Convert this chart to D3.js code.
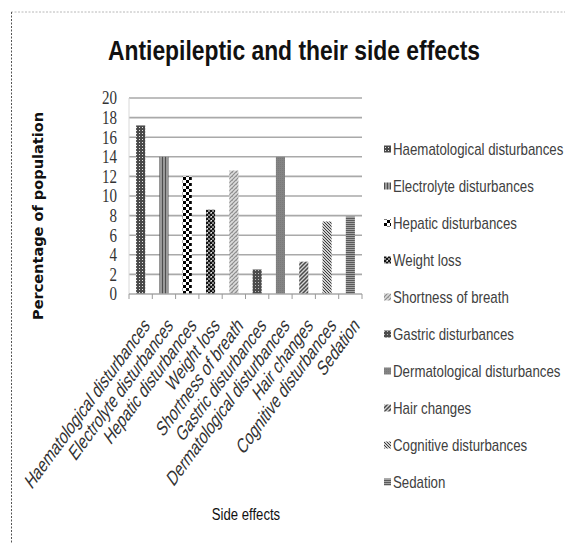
<!DOCTYPE html>
<html>
<head>
<meta charset="utf-8">
<script src="https://cdn.jsdelivr.net/npm/d3@7/dist/d3.min.js"></script>
<style>
  html, body { margin: 0; padding: 0; background: #fff; }
  svg { display: block; }
</style>
</head>
<body>
<svg id="chart" width="567" height="544"></svg>
<script>
// Side effects reported for antiepileptic drugs (% of population)
const categories = [
  "Haematological disturbances",
  "Electrolyte disturbances",
  "Hepatic disturbances",
  "Weight loss",
  "Shortness of breath",
  "Gastric disturbances",
  "Dermatological disturbances",
  "Hair changes",
  "Cognitive disturbances",
  "Sedation"
];
const values = [17.2, 14, 12, 8.6, 12.6, 2.5, 14, 3.3, 7.4, 7.9];
const yTicks = [0, 2, 4, 6, 8, 10, 12, 14, 16, 18, 20];
const titleText = "Antiepileptic and their side effects";
const xTitle = "Side effects";
const yTitle = "Percentage of population";

const SANS = "'Liberation Sans', Arial, sans-serif";
const NARROW_K = 0.82; // horizontal squeeze giving a condensed face

const svg = d3.select("#chart");
const defs = svg.append("defs");

// Monochrome fill patterns, one per series
function pat(id, w, h, bg, draw) {
  const p = defs.append("pattern").attr("id", id)
    .attr("patternUnits", "userSpaceOnUse").attr("width", w).attr("height", h);
  p.append("rect").attr("width", w).attr("height", h).attr("fill", bg);
  draw(p);
}
function sq(p, x, y, s, c) { p.append("rect").attr("x", x).attr("y", y).attr("width", s).attr("height", s).attr("fill", c); }

pat("p0", 3, 3, "#4a4a4a", p => { sq(p, 1, 1, 1, "#e8e8e8"); });
pat("p1", 3, 3, "#9a9a9a", p => { p.append("rect").attr("x", 0).attr("width", 1).attr("height", 3).attr("fill", "#4e4e4e"); });
pat("p2", 6, 6, "#ffffff", p => { sq(p, 0, 0, 3, "#000"); sq(p, 3, 3, 3, "#000"); });
pat("p3", 4, 4, "#8a8a8a", p => { sq(p, 0, 0, 2, "#111"); sq(p, 2, 2, 2, "#111"); sq(p, 3, 0, 1, "#f0f0f0"); });
pat("p4", 4, 4, "#dcdcdc", p => {
  p.append("path").attr("d", "M0,4 L4,0 M-1,1 L1,-1 M3,5 L5,3").attr("stroke", "#8c8c8c").attr("stroke-width", 1.2);
  sq(p, 0, 0, 1, "#a5a5a5");
});
pat("p5", 3, 3, "#4c4c4c", p => { sq(p, 0, 0, 1, "#bdbdbd"); });
pat("p6", 2, 2, "#848484", p => { sq(p, 0, 0, 1, "#7a7a7a"); });
pat("p7", 4, 4, "#d6d6d6", p => {
  p.append("path").attr("d", "M0,4 L4,0 M-1,1 L1,-1 M3,5 L5,3").attr("stroke", "#4a4a4a").attr("stroke-width", 1.5);
});
pat("p8", 3, 3, "#cfcfcf", p => {
  p.append("path").attr("d", "M0,0 L3,3 M-1,2 L1,4 M2,-1 L4,1").attr("stroke", "#3c3c3c").attr("stroke-width", 1);
});
pat("p9", 2, 2, "#a4a4a4", p => { p.append("rect").attr("width", 2).attr("height", 1).attr("fill", "#5a5a5a"); });

const fills = categories.map((_, i) => `url(#p${i})`);

// Outer dashed frame
svg.append("line").attr("x1", 11).attr("y1", 12).attr("x2", 565).attr("y2", 12)
  .attr("stroke", "#b8b8b8").attr("stroke-dasharray", "2,1.5");
svg.append("line").attr("x1", 11.5).attr("y1", 12).attr("x2", 11.5).attr("y2", 544)
  .attr("stroke", "#555").attr("stroke-dasharray", "2,1.5");

// Plot area
const plotLeft = 129, plotRight = 362, plotTop = 98, plotBottom = 294;
const x = d3.scaleBand().domain(categories).range([plotLeft, plotRight]).paddingInner(0.61).paddingOuter(0.305);
const y = d3.scaleLinear().domain([0, 20]).range([plotBottom, plotTop]);
const step = (plotRight - plotLeft) / categories.length;

// Horizontal gridlines
svg.append("g").selectAll("line").data(yTicks.filter(t => t > 0)).join("line")
  .attr("x1", plotLeft).attr("x2", plotRight)
  .attr("y1", d => y(d)).attr("y2", d => y(d))
  .attr("stroke", "#a9a9a9").attr("stroke-width", 1.6);

// Faint left axis line
svg.append("line").attr("x1", plotLeft).attr("x2", plotLeft).attr("y1", plotTop).attr("y2", plotBottom)
  .attr("stroke", "#d8d8d8").attr("stroke-width", 1);

// Y axis tick labels
const yAxis = d3.axisLeft(y).tickValues(yTicks).tickSize(0).tickPadding(12);
const yg = svg.append("g").attr("transform", `translate(${plotLeft},0)`).call(yAxis);
yg.select(".domain").remove();
yg.selectAll("text")
  .attr("font-family", "'Liberation Serif', serif")
  .attr("font-size", 15).attr("fill", "#333")
  .attr("transform", "scale(1,1.22)");

// Bars
svg.append("g").selectAll("rect").data(values).join("rect")
  .attr("x", (d, i) => x(categories[i]))
  .attr("width", x.bandwidth())
  .attr("y", d => y(d))
  .attr("height", d => y(0) - y(d))
  .attr("fill", (d, i) => fills[i]);

// X axis baseline and category boundary ticks
const boundaries = d3.range(categories.length + 1).map(i => plotLeft + i * step);
svg.append("line").attr("x1", plotLeft).attr("x2", plotRight).attr("y1", plotBottom).attr("y2", plotBottom)
  .attr("stroke", "#a9a9a9").attr("stroke-width", 1.4);
svg.append("g").selectAll("line").data(boundaries).join("line")
  .attr("x1", d => d).attr("x2", d => d).attr("y1", plotBottom).attr("y2", plotBottom + 5)
  .attr("stroke", "#9a9a9a").attr("stroke-width", 1);

// Slanted category labels
svg.append("g").selectAll("text").data(categories).join("text")
  .attr("transform", d => `translate(${x(d) + x.bandwidth() / 2 + 2},316) scale(1,1.37) rotate(-45) scale(${NARROW_K},1)`)
  .attr("text-anchor", "end").attr("dy", "0.71em")
  .attr("font-family", SANS).attr("font-size", 16).attr("fill", "#333")
  .text(d => d);

// Title
svg.append("text").attr("x", 294).attr("y", 60).attr("text-anchor", "middle")
  .attr("font-family", SANS).attr("font-weight", "bold").attr("font-size", 28)
  .attr("textLength", 372).attr("lengthAdjust", "spacingAndGlyphs")
  .attr("fill", "#111").text(titleText);

// Axis titles
svg.append("text").attr("transform", "translate(43,216) rotate(-90)").attr("text-anchor", "middle")
  .attr("font-family", "'DejaVu Sans', sans-serif").attr("font-weight", "bold").attr("font-size", 13.5)
  .attr("textLength", 208).attr("lengthAdjust", "spacingAndGlyphs")
  .attr("fill", "#111").text(yTitle);
svg.append("text").attr("transform", `translate(246,520) scale(${NARROW_K},1)`).attr("text-anchor", "middle")
  .attr("font-family", SANS).attr("font-size", 16).attr("fill", "#111").text(xTitle);

// Legend
const lg = svg.append("g").selectAll("g").data(categories).join("g")
  .attr("transform", (d, i) => `translate(384,${149 + i * 37})`);
lg.append("rect").attr("x", 0).attr("y", -3.5).attr("width", 7).attr("height", 7)
  .attr("fill", (d, i) => fills[i]);
lg.append("text").attr("transform", `translate(9,0) scale(${NARROW_K},1)`).attr("dy", "0.36em")
  .attr("font-family", SANS).attr("font-size", 16.2).attr("fill", "#404040")
  .text(d => d);
</script>
</body>
</html>
